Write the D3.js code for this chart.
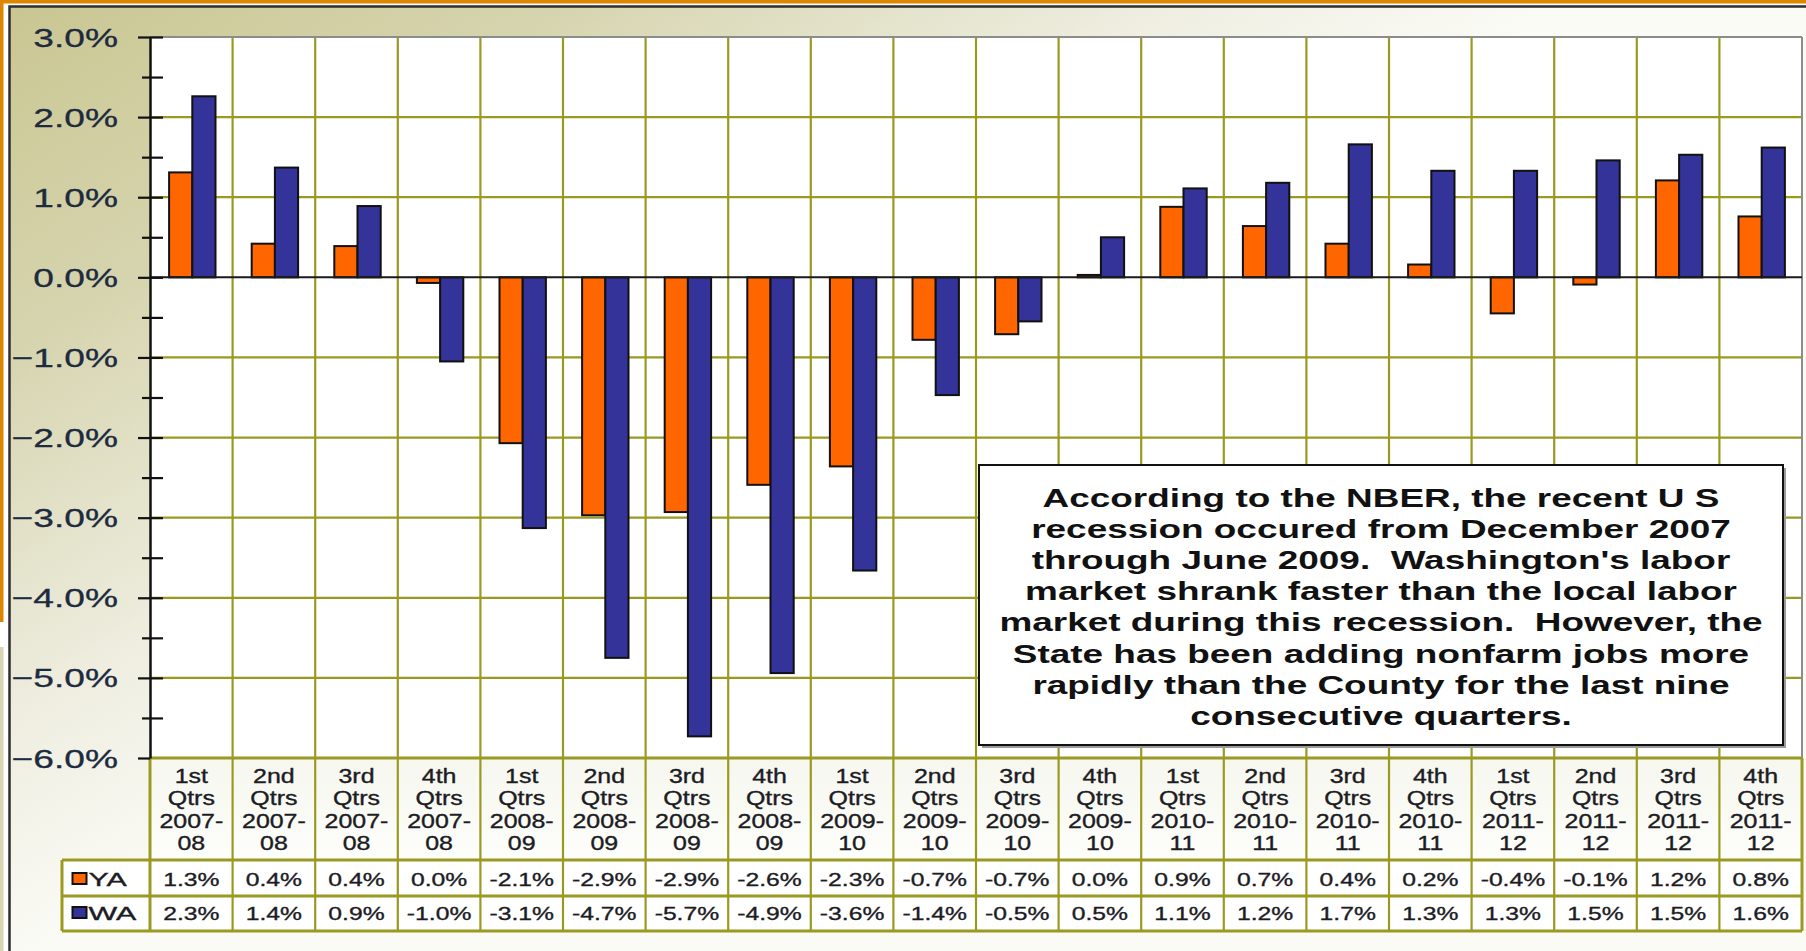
<!DOCTYPE html>
<html><head><meta charset="utf-8">
<script src="https://cdn.jsdelivr.net/npm/d3@7/dist/d3.min.js"></script>
<style>html,body{margin:0;padding:0;background:#fff;overflow:hidden}</style>
</head><body><svg id="c" width="1806" height="951"></svg>
<script>
// ---------- data ----------
const categories = [
  "1st Qtrs 2007- 08","2nd Qtrs 2007- 08","3rd Qtrs 2007- 08","4th Qtrs 2007- 08",
  "1st Qtrs 2008- 09","2nd Qtrs 2008- 09","3rd Qtrs 2008- 09","4th Qtrs 2008- 09",
  "1st Qtrs 2009- 10","2nd Qtrs 2009- 10","3rd Qtrs 2009- 10","4th Qtrs 2009- 10",
  "1st Qtrs 2010- 11","2nd Qtrs 2010- 11","3rd Qtrs 2010- 11","4th Qtrs 2010- 11",
  "1st Qtrs 2011- 12","2nd Qtrs 2011- 12","3rd Qtrs 2011- 12","4th Qtrs 2011- 12"
];
const seriesNames = ["YA","WA"];
const yaValues = [1.31,0.42,0.39,-0.07,-2.07,-2.97,-2.93,-2.59,-2.36,-0.78,-0.71,0.03,0.88,0.64,0.42,0.16,-0.45,-0.09,1.21,0.76];
const waValues = [2.26,1.37,0.89,-1.05,-3.13,-4.75,-5.73,-4.94,-3.66,-1.47,-0.55,0.50,1.11,1.18,1.66,1.33,1.33,1.46,1.53,1.62];
const yaLabels = ["1.3%","0.4%","0.4%","0.0%","-2.1%","-2.9%","-2.9%","-2.6%","-2.3%","-0.7%","-0.7%","0.0%","0.9%","0.7%","0.4%","0.2%","-0.4%","-0.1%","1.2%","0.8%"];
const waLabels = ["2.3%","1.4%","0.9%","-1.0%","-3.1%","-4.7%","-5.7%","-4.9%","-3.6%","-1.4%","-0.5%","0.5%","1.1%","1.2%","1.7%","1.3%","1.3%","1.5%","1.5%","1.6%"];
const yTicks = [3,2,1,0,-1,-2,-3,-4,-5,-6];
const yMinorTicks = [2.5,1.5,0.5,-0.5,-1.5,-2.5,-3.5,-4.5,-5.5];
const noteLines = [
  "According to the NBER, the recent U S",
  "recession occured from December 2007",
  "through June 2009.  Washington's labor",
  "market shrank faster than the local labor",
  "market during this recession.  However, the",
  "State has been adding nonfarm jobs more",
  "rapidly than the County for the last nine",
  "consecutive quarters."
];

// ---------- setup ----------
const W = 1806, H = 951;
const FONT = "'Liberation Sans', Arial, sans-serif";
const OLIVE = "#9a9a22";
const colors = {YA: "#ff6600", WA: "#333399"};
const svg = d3.select("#c");
const defs = svg.append("defs");
const g = defs.append("linearGradient").attr("id","bg")
  .attr("gradientUnits","userSpaceOnUse")
  .attr("x1",10).attr("y1",7).attr("x2",10+0.53*820).attr("y2",7+0.85*820);
[[0,"#cac692"],[0.35,"#d6d4ae"],[0.75,"#efeee1"],[1,"#fbfbf6"]]
  .forEach(([o,c]) => g.append("stop").attr("offset",o).attr("stop-color",c));
const hg = defs.append("linearGradient").attr("id","hdr").attr("x1",0).attr("y1",0).attr("x2",0).attr("y2",1);
hg.append("stop").attr("offset",0).attr("stop-color","#f7f7f0");
hg.append("stop").attr("offset",1).attr("stop-color","#fdfdfa");

svg.append("rect").attr("width",W).attr("height",H).attr("fill","#fff");
// slide border
svg.append("rect").attr("x",0).attr("y",0).attr("width",W).attr("height",3.5).attr("fill","#de8600");
svg.append("rect").attr("x",0).attr("y",0).attr("width",3.5).attr("height",622).attr("fill","#de8600");
svg.append("rect").attr("x",0).attr("y",647).attr("width",3.5).attr("height",H-647).attr("fill","#d7d5b4");
// chart frame
svg.append("rect").attr("x",9.5).attr("y",6.5).attr("width",W).attr("height",H)
  .attr("fill","url(#bg)").attr("stroke","#2e2e2e").attr("stroke-width",2.5);

const plot = {l:150, r:1802, t:37, b:758};
const x = d3.scaleBand().domain(categories).range([plot.l, plot.r]).padding(0);
const xs = d3.scaleBand().domain(seriesNames).range([0, x.bandwidth()]).paddingInner(0).paddingOuter(0.78);
const y = d3.scaleLinear().domain([-6,3]).range([plot.b, plot.t]);

function stext(sel, px, py, str, size, sx, anchor, weight, fill, sw) {
  const f = fill || "#1c1c24";
  return sel.append("text")
    .attr("transform", `translate(${px},${py}) scale(${sx},1)`)
    .attr("text-anchor", anchor)
    .attr("font-family", FONT).attr("font-size", size)
    .attr("font-weight", weight || "normal")
    .attr("fill", f)
    .attr("stroke", sw ? f : "none").attr("stroke-width", sw || 0)
    .style("white-space","pre")
    .text(str);
}

// plot area
svg.append("rect").attr("x",plot.l).attr("y",plot.t).attr("width",plot.r-plot.l).attr("height",plot.b-plot.t).attr("fill","#fff");

// horizontal gridlines
svg.append("g").selectAll("line").data(yTicks.filter(d => d !== 3 && d !== 0 && d !== -6)).join("line")
  .attr("x1",plot.l).attr("x2",plot.r).attr("y1",d=>y(d)).attr("y2",d=>y(d))
  .attr("stroke",OLIVE).attr("stroke-width",2.2);

// table geometry
const rowTop = plot.b, rowHdr = 860, rowYA = 896, rowWA = 931, legL = 62;

// header cells & value cells
svg.append("g").selectAll("rect").data(categories).join("rect")
  .attr("x",d=>x(d)).attr("y",rowTop).attr("width",x.bandwidth()).attr("height",rowHdr-rowTop)
  .attr("fill","url(#hdr)");
svg.append("rect").attr("x",legL).attr("y",rowHdr).attr("width",plot.r-legL).attr("height",rowWA-rowHdr).attr("fill","#fff");

// vertical gridlines (category boundaries) through plot and table
const bounds = categories.slice(1).map(d => x(d));
svg.append("g").selectAll("line").data(bounds).join("line")
  .attr("x1",d=>d).attr("x2",d=>d).attr("y1",plot.t).attr("y2",rowWA)
  .attr("stroke",OLIVE).attr("stroke-width",2.2);

// plot border (top/right)
svg.append("line").attr("x1",plot.l).attr("x2",plot.r).attr("y1",plot.t).attr("y2",plot.t).attr("stroke","#8c8c8c").attr("stroke-width",2);
svg.append("line").attr("x1",plot.r).attr("x2",plot.r).attr("y1",plot.t).attr("y2",plot.b).attr("stroke","#8c8c8c").attr("stroke-width",2);

// table borders
const tb = svg.append("g").attr("stroke",OLIVE).attr("stroke-width",3);
tb.append("line").attr("x1",plot.l).attr("x2",plot.r).attr("y1",rowTop).attr("y2",rowTop);
[rowHdr,rowYA,rowWA].forEach(v => tb.append("line").attr("x1",legL).attr("x2",plot.r).attr("y1",v).attr("y2",v));
tb.append("line").attr("x1",legL).attr("x2",legL).attr("y1",rowHdr).attr("y2",rowWA);
tb.append("line").attr("x1",plot.l).attr("x2",plot.l).attr("y1",rowTop).attr("y2",rowWA);
tb.append("line").attr("x1",plot.r).attr("x2",plot.r).attr("y1",rowTop).attr("y2",rowWA);

// bars
const rows = categories.map((c,i) => ({cat:c, YA:yaValues[i], WA:waValues[i]}));
svg.append("g").selectAll("g").data(rows).join("g")
  .attr("transform", d => `translate(${x(d.cat)+1},0)`)
  .selectAll("rect").data(d => seriesNames.map(k => ({k, v:d[k]}))).join("rect")
  .attr("x", d => xs(d.k)).attr("width", xs.bandwidth())
  .attr("y", d => y(Math.max(0,d.v))).attr("height", d => Math.abs(y(d.v)-y(0)))
  .attr("fill", d => colors[d.k]).attr("stroke","#111").attr("stroke-width",2);

// zero line
svg.append("line").attr("x1",plot.l).attr("x2",plot.r).attr("y1",y(0)).attr("y2",y(0))
  .attr("stroke","#1a1a1a").attr("stroke-width",2);

// y axis
const ax = svg.append("g").attr("transform",`translate(${plot.l},0)`)
  .call(d3.axisLeft(y).tickValues(yTicks).tickSizeInner(12).tickSizeOuter(0).tickFormat(""));
ax.select(".domain").attr("stroke","#111").attr("stroke-width",2.5);
ax.selectAll(".tick line").attr("x1",13).attr("stroke","#111").attr("stroke-width",2.2);
ax.selectAll(".tick").filter(d => d === -6).select("line").attr("x1",0);
const axm = svg.append("g").attr("transform",`translate(${plot.l},0)`)
  .call(d3.axisLeft(y).tickValues(yMinorTicks).tickSizeInner(8).tickSizeOuter(0).tickFormat(""));
axm.select(".domain").remove();
axm.selectAll(".tick line").attr("x1",13).attr("stroke","#111").attr("stroke-width",2.2);

const fmt = d3.format(".1f");
const yl = svg.append("g");
yTicks.forEach(t => stext(yl, 118, y(t)+9.5, fmt(t)+"%", 26, 1.43, "end", "normal", "#1d2b3f", 0.3));

// table text
const th = svg.append("g");
categories.forEach(c => {
  const parts = c.split(" ");
  const cx = x(c) + x.bandwidth()/2;
  parts.forEach((p,j) => stext(th, cx, 783 + j*22.4, p, 19.5, 1.28, "middle", "normal", "#1c1c24", 0.35));
});
categories.forEach((c,i) => {
  const cx = x(c) + x.bandwidth()/2;
  stext(th, cx, 886, yaLabels[i], 19, 1.3, "middle", "normal", "#1c1c24", 0.35);
  stext(th, cx, 920, waLabels[i], 19, 1.3, "middle", "normal", "#1c1c24", 0.35);
});
// legend keys
[[seriesNames[0],873],[seriesNames[1],907]].forEach(([k,ky]) => {
  svg.append("rect").attr("x",72.5).attr("y",ky).attr("width",14).attr("height",11)
    .attr("fill",colors[k]).attr("stroke","#111").attr("stroke-width",2);
  stext(th, 88.5, ky+13, k, 19, 1.6, "start", "normal", "#1c1c24", 0.35);
});

// annotation box
const box = {l:979, r:1783, t:465, b:745};
svg.append("rect").attr("x",box.l+3).attr("y",box.t+3).attr("width",box.r-box.l).attr("height",box.b-box.t).attr("fill","#9a9a9a");
svg.append("rect").attr("x",box.l).attr("y",box.t).attr("width",box.r-box.l).attr("height",box.b-box.t)
  .attr("fill","#fff").attr("stroke","#111").attr("stroke-width",2);
const nt = svg.append("g");
noteLines.forEach((ln,i) => stext(nt, (box.l+box.r)/2, 507 + i*31.1, ln, 26, 1.42, "middle", "bold", "#111"));
</script></body></html>
